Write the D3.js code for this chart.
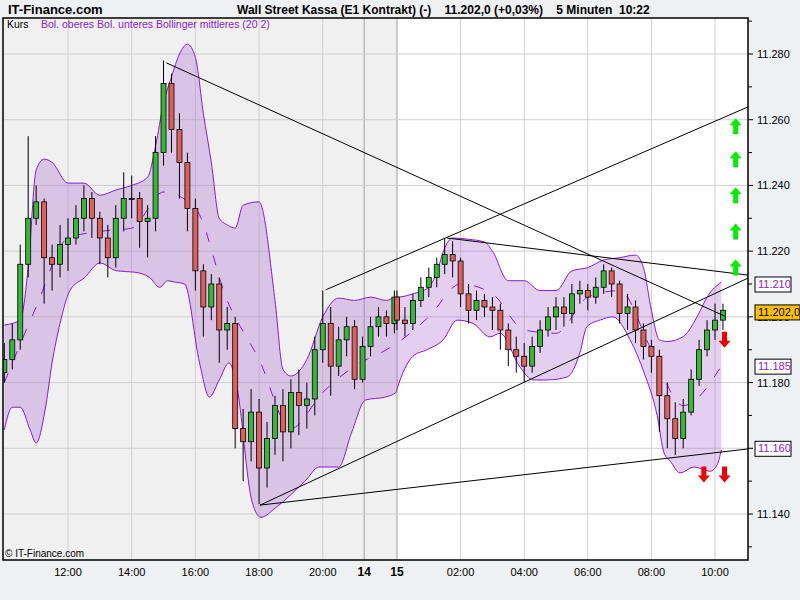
<!DOCTYPE html>
<html><head><meta charset="utf-8">
<script src="https://cdn.jsdelivr.net/npm/d3@7"></script>
<style>body{margin:0;background:#eff0f2;} text{font-family:"Liberation Sans",Arial,sans-serif;}</style>
</head><body><div id="chart"></div>
<script>
// Kerzen (15-Minuten-Raster), Zeit in Stunden ab 14. 0:00 (15. = 24+)
const times = d3.range(10, 22.5, 0.25).concat(d3.range(24, 34.5, 0.25));
const opens = [11.183,11.187,11.193,11.216,11.230,11.235,11.218,11.216,11.222,11.224,
  11.230,11.236,11.230,11.224,11.218,11.230,11.236,11.236,11.229,11.230,
  11.250,11.271,11.257,11.247,11.233,11.214,11.203,11.210,11.196,11.198,
  11.166,11.162,11.171,11.154,11.163,11.173,11.165,11.177,11.173,11.175,
  11.190,11.198,11.185,11.193,11.197,11.181,11.191,11.197,11.200,11.198,
  11.206,11.199,11.198,11.205,11.209,11.212,11.216,11.219,11.217,11.207,
  11.202,11.205,11.203,11.202,11.196,11.190,11.188,11.185,11.191,11.196,
  11.200,11.203,11.201,11.207,11.208,11.206,11.209,11.214,11.210,11.201,
  11.203,11.196,11.191,11.188,11.176,11.169,11.163,11.171,11.181,11.190,
  11.196,11.199];
const highs = [11.192,11.198,11.222,11.255,11.240,11.236,11.222,11.228,11.230,11.234,
  11.240,11.238,11.232,11.228,11.234,11.244,11.243,11.238,11.234,11.255,
  11.278,11.274,11.262,11.250,11.236,11.216,11.213,11.212,11.203,11.200,
  11.172,11.178,11.175,11.168,11.176,11.178,11.181,11.184,11.180,11.194,
  11.208,11.203,11.197,11.200,11.199,11.194,11.200,11.203,11.202,11.208,
  11.208,11.203,11.207,11.212,11.215,11.218,11.224,11.223,11.218,11.210,
  11.208,11.207,11.206,11.204,11.198,11.194,11.192,11.194,11.199,11.203,
  11.206,11.206,11.210,11.211,11.210,11.212,11.216,11.215,11.211,11.207,
  11.205,11.198,11.193,11.190,11.180,11.174,11.175,11.184,11.193,11.199,
  11.204,11.204];
const lows = [11.180,11.184,11.190,11.212,11.228,11.204,11.208,11.212,11.214,11.222,
  11.226,11.224,11.216,11.212,11.215,11.226,11.230,11.221,11.218,11.226,
  11.246,11.250,11.236,11.226,11.208,11.194,11.199,11.186,11.190,11.160,
  11.150,11.156,11.143,11.148,11.158,11.156,11.160,11.164,11.166,11.170,
  11.186,11.176,11.182,11.188,11.178,11.180,11.188,11.194,11.194,11.195,
  11.196,11.194,11.196,11.203,11.206,11.209,11.213,11.212,11.203,11.198,
  11.199,11.200,11.196,11.190,11.185,11.183,11.180,11.183,11.189,11.194,
  11.196,11.197,11.198,11.204,11.202,11.204,11.207,11.206,11.198,11.196,
  11.192,11.187,11.183,11.165,11.160,11.158,11.160,11.170,11.179,11.188,
  11.193,11.196];
const closes = [11.187,11.193,11.216,11.230,11.235,11.218,11.216,11.222,11.224,11.230,
  11.236,11.230,11.224,11.218,11.230,11.236,11.236,11.229,11.230,11.250,
  11.271,11.257,11.247,11.233,11.214,11.203,11.210,11.196,11.198,11.166,
  11.162,11.171,11.154,11.163,11.173,11.165,11.177,11.173,11.175,11.190,
  11.198,11.185,11.193,11.197,11.181,11.191,11.197,11.200,11.198,11.206,
  11.199,11.198,11.205,11.209,11.212,11.216,11.219,11.217,11.207,11.202,
  11.205,11.203,11.202,11.196,11.190,11.188,11.185,11.191,11.196,11.200,
  11.203,11.201,11.207,11.208,11.206,11.209,11.214,11.210,11.201,11.203,
  11.196,11.191,11.188,11.176,11.169,11.163,11.171,11.181,11.190,11.196,
  11.199,11.202];

// Bollinger (20 2)
const upperT = [10,10.5,10.75,11,11.25,11.5,12,12.5,13,13.5,14,14.5,14.75,15,15.25,15.5,15.75,16,16.25,16.5,16.75,17,17.25,17.5,18,18.5,18.75,19,19.5,20,20.5,21,21.5,22,22.3,24,24.5,25,25.25,25.5,25.75,26.25,26.75,27,27.5,28,28.5,29,29.5,30,30.5,31,31.5,31.75,32,32.25,32.5,33,33.5,33.75,34.2];
const upperV = [11.1975,11.199,11.215,11.2447,11.248,11.247,11.2407,11.2407,11.237,11.2386,11.240,11.2425,11.252,11.265,11.273,11.280,11.283,11.279,11.262,11.247,11.230,11.228,11.227,11.234,11.235,11.205,11.184,11.182,11.187,11.200,11.2057,11.205,11.206,11.205,11.206,11.206,11.207,11.209,11.2136,11.221,11.224,11.2236,11.2228,11.220,11.211,11.211,11.208,11.208,11.214,11.215,11.2173,11.218,11.2188,11.215,11.202,11.193,11.1925,11.194,11.2012,11.206,11.2106];
const lowerT = [10,10.25,10.5,10.81,11,11.28,11.5,11.75,12.06,12.53,13,13.53,14.09,14.56,14.88,15.13,15.34,15.66,16.13,16.44,16.75,17.06,17.28,17.78,18.06,18.53,19.47,19.88,20.5,20.9,21.34,21.97,22.3,24,24.5,24.94,25.45,25.89,26.39,26.92,27.24,27.87,28.28,28.72,29.35,29.75,29.97,30.38,30.79,31.33,31.77,32.18,32.4,32.6,32.9,33.34,33.84,34.07,34.2];
const lowerV = [11.1656,11.1725,11.1725,11.1656,11.1616,11.1716,11.186,11.198,11.208,11.212,11.2164,11.214,11.2136,11.212,11.209,11.211,11.2106,11.210,11.186,11.1756,11.1808,11.186,11.180,11.1437,11.139,11.142,11.1503,11.1543,11.1543,11.1646,11.1747,11.1756,11.177,11.178,11.188,11.190,11.193,11.199,11.198,11.1939,11.195,11.1847,11.1808,11.1808,11.1817,11.189,11.197,11.199,11.200,11.193,11.183,11.170,11.1585,11.156,11.1525,11.1543,11.153,11.155,11.1595];
const midT = [10,11,12,13,14,15,16,17,18,19,20,21,22,24,25,26,27,28,29,30,31,32,33,34.2];
const midV = [11.180,11.203,11.224,11.226,11.227,11.238,11.233,11.205,11.187,11.166,11.177,11.185,11.190,11.192,11.200,11.210,11.207,11.196,11.195,11.206,11.208,11.190,11.173,11.185];

// Trendlinien [t1, p1, t2, p2]
const trendLines = [
  [15.09, 11.2773, 34.31, 11.2002],
  [25.57, 11.2240, 35.04, 11.2127],
  [18.03, 11.1427, 35.04, 11.1598],
  [18.03, 11.1427, 35.04, 11.2118],
  [20.09, 11.2082, 35.04, 11.2639]
];
// Signalpfeile
const upSignals = [[34.65, 11.258], [34.65, 11.248], [34.65, 11.237], [34.65, 11.226], [34.65, 11.215]];
const downSignals = [[34.3, 11.193], [33.65, 11.152], [34.3, 11.152]];

const yTicks = d3.range(11.14, 11.2801, 0.02);
const yMinor = d3.range(11.13, 11.2901, 0.02);
const xTicks = [12, 14, 16, 18, 20, 26, 28, 30, 32, 34];
const xLabels = ["12:00","14:00","16:00","18:00","20:00","02:00","04:00","06:00","08:00","10:00"];
const dayMarks = [[21.3, "14"], [24, "15"]];
const priceTags = [[11.210, "11.210"], [11.185, "11.185"], [11.160, "11.160"]];
const lastPrice = 11.2015;

const W = 800, H = 600, L = 3, R = 748, T = 18, B = 560;
const svg = d3.select("#chart").append("svg").attr("width", W).attr("height", H)
  .style("background", "#eff0f2");

const x = d3.scaleLinear().domain([12, 22.3, 24, 34]).range([68, 396, 397, 715]);
const y = d3.scaleLinear().domain([11.14, 11.28]).range([514, 54]);

// Hintergrund
svg.append("rect").attr("x", L).attr("y", T).attr("width", R - L).attr("height", B - T).attr("fill", "#fff");
svg.append("rect").attr("x", L).attr("y", T).attr("width", x(24) - L).attr("height", B - T).attr("fill", "#f0f0f0");

// Gitter
svg.selectAll(".gx").data(xTicks).join("line")
  .attr("x1", d => x(d)).attr("x2", d => x(d)).attr("y1", T).attr("y2", B)
  .attr("stroke", "#d0d0d0");
svg.selectAll(".gd").data(dayMarks).join("line")
  .attr("x1", d => x(d[0])).attr("x2", d => x(d[0])).attr("y1", T).attr("y2", B)
  .attr("stroke", "#a0a0a0");
svg.selectAll(".gy").data(yTicks).join("line")
  .attr("x1", L).attr("x2", R).attr("y1", d => y(d)).attr("y2", d => y(d))
  .attr("stroke", "#d0d0d0");

svg.append("defs").append("clipPath").attr("id", "c")
  .append("rect").attr("x", L).attr("y", T).attr("width", R - L).attr("height", B - T);
const g = svg.append("g").attr("clip-path", "url(#c)");

// Bollinger Band
const upperPts = upperT.map((t, i) => [x(t), y(upperV[i])]);
const lowerPts = lowerT.map((t, i) => [x(t), y(lowerV[i])]);
const lineGen = d3.line().curve(d3.curveMonotoneX);
g.append("path").attr("d", lineGen(upperPts) + "L" + lineGen(lowerPts.slice().reverse()).slice(1) + "Z")
  .attr("fill", "rgba(165,95,205,0.30)").attr("stroke", "none");
g.append("path").attr("d", lineGen(upperPts)).attr("fill", "none").attr("stroke", "#8a1ad0").attr("stroke-width", 1);
g.append("path").attr("d", lineGen(lowerPts)).attr("fill", "none").attr("stroke", "#8a1ad0").attr("stroke-width", 1);
g.append("path").attr("d", lineGen(midT.map((t, i) => [x(t), y(midV[i])])))
  .attr("fill", "none").attr("stroke", "#8a1ad0").attr("stroke-dasharray", "10,14");

// Kerzen
const cw = 5;
const candles = g.selectAll(".c").data(times).join("g");
candles.append("line")
  .attr("x1", d => x(d)).attr("x2", d => x(d))
  .attr("y1", (d, i) => y(highs[i])).attr("y2", (d, i) => y(lows[i]))
  .attr("stroke", "#000");
candles.append("rect")
  .attr("x", d => x(d) - cw / 2).attr("width", cw)
  .attr("y", (d, i) => y(Math.max(opens[i], closes[i])))
  .attr("height", (d, i) => Math.max(1, Math.abs(y(opens[i]) - y(closes[i]))))
  .attr("fill", (d, i) => closes[i] >= opens[i] ? "#36b836" : "#e06058")
  .attr("stroke", "#000").attr("stroke-width", 0.8);

// Trendlinien
g.selectAll(".tl").data(trendLines).join("line")
  .attr("x1", d => x(d[0])).attr("y1", d => y(d[1])).attr("x2", d => x(d[2])).attr("y2", d => y(d[3]))
  .attr("stroke", "#000").attr("stroke-width", 1);

// Pfeile
const arrowUp = "M0,-8 L6,-1 L2.5,-1 L2.5,8 L-2.5,8 L-2.5,-1 L-6,-1 Z";
g.selectAll(".au").data(upSignals).join("path").attr("d", arrowUp)
  .attr("transform", d => `translate(${x(d[0])},${y(d[1])})`).attr("fill", "#00ee00");
g.selectAll(".ad").data(downSignals).join("path").attr("d", arrowUp)
  .attr("transform", d => `translate(${x(d[0])},${y(d[1])}) rotate(180)`).attr("fill", "#ee0000");

// Rahmen
svg.append("rect").attr("x", L).attr("y", T).attr("width", R - L).attr("height", B - T)
  .attr("fill", "none").attr("stroke", "#000").attr("stroke-width", 1.5);

// Y-Achse rechts
svg.selectAll(".ym").data(yMinor).join("line")
  .attr("x1", R).attr("x2", R + 4).attr("y1", d => y(d)).attr("y2", d => y(d)).attr("stroke", "#000");
svg.selectAll(".yt").data(yTicks).join("line")
  .attr("x1", R).attr("x2", R + 5).attr("y1", d => y(d)).attr("y2", d => y(d)).attr("stroke", "#000");
svg.selectAll(".yl").data(yTicks).join("text")
  .attr("x", R + 9).attr("y", d => y(d) + 4).attr("font-size", 11).text(d => d.toFixed(3));

// Preismarken
const tags = svg.selectAll(".pt").data(priceTags).join("g")
  .attr("transform", d => `translate(${R + 7},${y(d[0])})`);
tags.append("rect").attr("x", 0).attr("y", -7).attr("width", 36).attr("height", 15)
  .attr("fill", "#fff").attr("stroke", "#000");
tags.append("text").attr("x", 3).attr("y", 4).attr("font-size", 11).attr("fill", "#8a1ad0").text(d => d[1]);
const lp = svg.append("g").attr("transform", `translate(${R + 7},${y(lastPrice)})`);
lp.append("rect").attr("x", 0).attr("y", -7).attr("width", 45).attr("height", 15).attr("fill", "#ffc000").attr("stroke", "#000");
lp.append("text").attr("x", 3).attr("y", 4).attr("font-size", 11).text("11.202,0");

// X-Achse
svg.selectAll(".xl").data(xTicks).join("text")
  .attr("x", d => x(d)).attr("y", B + 16).attr("text-anchor", "middle").attr("font-size", 11)
  .text((d, i) => xLabels[i]);
svg.selectAll(".dl").data(dayMarks).join("text")
  .attr("x", d => x(d[0])).attr("y", B + 16).attr("text-anchor", "middle")
  .attr("font-size", 12).attr("font-weight", "bold").text(d => d[1]);

// Titel & Legende
svg.append("text").attr("x", 8).attr("y", 14).attr("font-size", 13).attr("font-weight", "bold").text("IT-Finance.com");
svg.append("text").attr("x", 237).attr("y", 14).attr("font-size", 12).attr("font-weight", "bold")
  .attr("xml:space", "preserve").text("Wall Street Kassa (E1 Kontrakt) (-)    11.202,0 (+0,03%)    5 Minuten  10:22");
svg.append("text").attr("x", 7).attr("y", 28).attr("font-size", 10.5).text("Kurs");
svg.append("text").attr("x", 41).attr("y", 28).attr("font-size", 10.5).attr("fill", "#8a1ad0")
  .text("Bol. oberes Bol. unteres Bollinger mittleres (20 2)");
svg.append("text").attr("x", 5).attr("y", 557).attr("font-size", 10).text("© IT-Finance.com");
</script></body></html>
